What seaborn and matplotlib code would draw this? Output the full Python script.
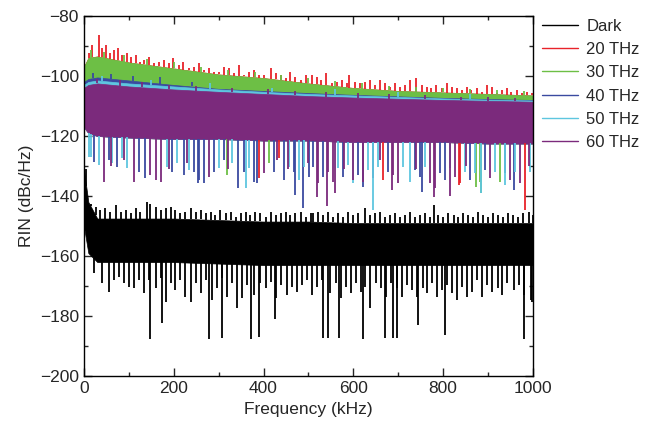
import matplotlib
matplotlib.use("Agg")
import matplotlib.pyplot as plt
import seaborn as sns
import numpy as np
from matplotlib.lines import Line2D
from matplotlib.ticker import MultipleLocator

# Datos: envolventes de la banda densa + picos visibles
f_env = [0, 10, 30, 100, 200, 300, 400, 500, 600, 700, 800, 900, 1000]

dark_hi = [-131, -142, -147.5, -147.5, -147.5, -148, -148.5, -148.5, -149, -149, -149, -149, -149]
dark_lo = [-150, -159, -162, -162, -162, -162.5, -163, -163, -163, -163, -163, -163, -163]

thz20_hi = [-97, -94, -93.5, -95.5, -97.5, -99.5, -100.7, -102.5, -104, -105, -105.5, -106, -106.5]
thz20_lo = [-117, -119, -120, -120.5, -121, -121, -121.5, -121.5, -122, -122, -122, -122.5, -122.5]
thz30_hi = [-97, -94, -93.5, -95.5, -97.5, -99.5, -100.7, -102.5, -104, -105, -105.5, -106, -106.5]
thz30_lo = [-117, -119, -120, -120.5, -121, -121, -121.5, -121.5, -122, -122, -122, -122.5, -122.5]
thz40_hi = [-102, -101, -100.5, -101.5, -103, -104.3, -105, -105.7, -106.3, -106.8, -107.3, -107.7, -108]
thz40_lo = [-117, -119, -120, -120.5, -121, -121, -121.5, -121.5, -122, -122, -122, -122.5, -122.5]
thz50_hi = [-103, -102, -101.5, -102.5, -103.5, -104.5, -105.3, -106, -106.5, -107, -107.5, -107.9, -108.2]
thz50_lo = [-117, -119, -120, -120.5, -121, -121, -121.5, -121.5, -122, -122, -122, -122.5, -122.5]
thz60_hi = [-104, -103, -102.5, -103.5, -104.5, -105.3, -106, -106.7, -107.2, -107.6, -108, -108.3, -108.6]
thz60_lo = [-117, -119, -120, -120.5, -121, -121, -121.5, -121.5, -122, -122, -122, -122.5, -122.5]

# Dark: picos hacia arriba y hacia abajo (kHz, dBc/Hz)
dark_up_f = [5, 15, 26, 37, 48, 59, 71, 82, 93, 104, 115, 126, 141, 148, 160, 171, 182, 193, 204,
             215, 226, 238, 249, 260, 271, 282, 293, 304, 316, 327, 338, 349, 360, 371, 382, 393,
             405, 416, 427, 438, 449, 460, 471, 483, 494, 505, 511, 522, 533, 544, 555, 566, 578,
             589, 600, 611, 626, 637, 648, 659, 670, 681, 693, 704, 715, 726, 737, 748, 759, 771,
             780, 789, 800, 811, 823, 834, 845, 856, 867, 878, 889, 900, 912, 923, 934, 945, 956,
             967, 978, 990, 999]
dark_up_v = [-131, -142.5, -143.6, -144.7, -144.1, -145.3, -143, -145.3, -144.7, -145.8, -144.1,
             -145.3, -141.9, -142.5, -143.6, -144.7, -144.1, -143.6, -144.7, -145.8, -145.3,
             -144.1, -145.3, -144.7, -145.8, -145.3, -146.4, -144.7, -145.8, -145.3, -146.9,
             -145.8, -145.3, -146.4, -145.3, -145.8, -146.9, -145.3, -146.4, -145.8, -145.3,
             -146.4, -145.8, -145.3, -146.9, -145.8, -145.8, -145.3, -146.4, -145.3, -146.9,
             -145.8, -146.9, -145.3, -146.4, -145.8, -144.1, -146.4, -145.8, -145.3, -146.9,
             -146.4, -145.8, -146.9, -146.4, -145.3, -146.9, -146.4, -145.8, -146.9, -143,
             -146.4, -146.9, -145.8, -146.4, -146.9, -145.8, -146.4, -146.9, -145.3, -146.4,
             -146.9, -145.8, -146.4, -146.9, -145.8, -146.4, -146.9, -145.8, -145.3, -146.4]
dark_dn_f = [22, 41, 56, 67, 78, 89, 100, 111, 122, 134, 145, 160, 171, 182, 193, 204, 215, 226,
             238, 249, 260, 271, 286, 297, 308, 319, 330, 342, 353, 364, 379, 393, 405, 416, 427,
             438, 453, 464, 475, 486, 497, 509, 520, 531, 549, 561, 572, 583, 594, 605, 616, 627,
             638, 650, 661, 672, 683, 698, 709, 720, 731, 742, 754, 765, 776, 787, 798, 809, 820,
             831, 843, 854, 865, 876, 887, 898, 909, 921, 932, 943, 958, 969, 980, 995,
             148, 175, 279, 307, 373, 390, 425, 533, 544, 569, 621, 670, 689, 698, 745, 805, 981, 998]
dark_dn_v = [-165.7, -169.1, -171.9, -168, -166.9, -169.1, -170.2, -170.7, -168, -172.4, -168,
             -170.7, -167.4, -175.2, -169.1, -171.3, -168, -173.5, -175.2, -169.1, -172.4, -168,
             -174.6, -170.7, -167.4, -173.5, -169.1, -177.4, -174.1, -169.6, -173, -169.1, -170.7,
             -168.5, -174.1, -169.6, -173, -170.2, -171.9, -169.6, -168, -173, -170.2, -168,
             -172.4, -169.1, -174.1, -170.2, -172.4, -169.1, -171.9, -170.2, -177.4, -169.1,
             -170.7, -173.5, -169.1, -170.7, -173.5, -169.6, -171.3, -173.5, -170.7, -172.4,
             -169.1, -173.5, -171.3, -169.6, -172.4, -174.6, -170.2, -173.5, -171.9, -168,
             -173.5, -169.6, -171.9, -170.7, -173, -169.1, -171.3, -169.6, -173, -174.6,
             -187.7, -182.2, -187.7, -187.4, -187.7, -186.9, -181.1, -187.4, -187.4, -187.4,
             -187.7, -187.4, -187.4, -187.4, -183, -186.3, -187.7, -175.2]

# 20 THz: picos superiores (borde rojo) e inferiores
thz20_up_f = [11, 19, 33, 41, 50, 59, 68, 76, 85, 95, 104, 115, 125, 134, 145, 156, 167, 178, 189,
              199, 212, 221, 234, 245, 256, 267, 278, 290, 301, 312, 323, 334, 345, 356, 367, 379,
              390, 401, 416, 427, 438, 449, 460, 471, 483, 494, 507, 518, 529, 540, 552, 563, 574,
              585, 591, 604, 615, 626, 637, 648, 659, 670, 681, 693, 704, 715, 726, 739, 752, 763,
              774, 785, 797, 808, 819, 830, 841, 852, 863, 875, 886, 897, 908, 919, 930, 941, 952,
              964, 975, 986, 997]
thz20_up_v = [-92.4, -89.7, -86.3, -90.8, -89.7, -92.4, -91.3, -90.8, -93, -92.4, -93.6, -93,
              -95.2, -94.7, -93.6, -95.8, -95.2, -94.7, -95.8, -94.1, -96.3, -95.2, -97.4, -96.9,
              -95.8, -98, -97.4, -98.6, -98.6, -96.9, -97.4, -99.1, -96.3, -99.7, -98.6, -98,
              -99.7, -99.7, -97.4, -99.1, -99.7, -100.8, -98.6, -100.2, -101.3, -99.7, -99.7,
              -100.2, -101.3, -99.1, -102.4, -101.9, -101.3, -102.4, -99.7, -101.9, -102.4,
              -101.9, -101.3, -103, -101.3, -102.4, -103.6, -102.4, -103.6, -103, -101.3, -100.8,
              -103, -103.6, -104.1, -103, -104.1, -102.4, -103.6, -104.1, -104.7, -103.6, -104.7,
              -104.1, -105.2, -103, -103.6, -105.8, -104.7, -104.1, -105.2, -104.7, -105.8,
              -105.2, -105.8]
thz20_dn_f = [390, 434, 667, 837, 982, 836]
thz20_dn_v = [-134.1, -127.4, -134.7, -135.8, -144.6, -136.3]

thz30_up_f = [15, 45, 90, 140, 200, 260, 320, 380, 440, 500, 560, 620, 680, 740, 800, 860, 920, 980]
thz30_up_v = [-91.5, -92, -93, -94.5, -95.5, -97, -98, -98.8, -99.8, -100.8, -101.8, -102.5,
              -103.2, -103.6, -104, -104.3, -104.6, -104.9]
thz30_dn_f = [319, 412, 882, 926, 874, 885]
thz30_dn_v = [-133, -129.1, -135.2, -135.2, -136.9, -139]

thz40_up_f = [20, 60, 110, 170, 240]
thz40_up_v = [-99, -99.5, -100, -100.5, -102]
thz40_dn_f = [22, 56, 74, 122, 137, 197, 223, 245, 256, 267, 290, 312, 343, 356, 379, 423, 445,
              468, 501, 511, 533, 578, 611, 644, 678, 737, 748, 793, 804, 860, 893, 938,
              255, 385, 469, 489, 622, 752, 958]
thz40_dn_v = [-128.6, -128, -130.2, -131.9, -134.1, -131.9, -133, -131.9, -134.7, -135.8, -131.9,
              -128, -137.4, -131.9, -135.2, -131.9, -134.7, -131.9, -133.6, -130.2, -133.6,
              -133.6, -133, -134.1, -131.9, -131.3, -133.6, -132.4, -134.7, -134.7, -131.3,
              -132.4, -135.8, -135.7, -139.6, -144, -136.9, -138.5, -138]

thz50_up_f = [40, 150, 280, 420, 560, 700, 860]
thz50_up_v = [-100, -101.5, -102.5, -104, -104.5, -105.5, -106]
thz50_dn_f = [11, 17, 33, 63, 85, 97, 186, 208, 234, 301, 330, 367, 457, 479, 490, 566, 589, 633,
              656, 711, 726, 759, 815, 849, 871, 915, 960, 993, 360, 600, 643, 885, 937]
thz50_dn_v = [-126.9, -127, -129.7, -129.1, -127.4, -130.8, -130.2, -129.1, -131.3, -130.8,
              -129.1, -130.8, -130.2, -134.7, -130.2, -130.8, -129.7, -131.3, -130.2, -130.2,
              -135.2, -130.2, -130.8, -131.9, -132.4, -131.9, -131.9, -131.9, -137.4, -135.7,
              -144.6, -139, -136.3]

thz60_up_f = [30, 80, 130, 190, 250, 330, 410, 470, 540, 610, 680, 760, 840, 900, 960]
thz60_up_v = [-101, -101.5, -102, -103, -103.5, -104, -104.5, -105, -105.5, -105.8, -106, -106.5,
              -107, -107, -107.5]
thz60_dn_f = [1, 45, 60, 90, 111, 148, 160, 171, 190, 230, 278, 320, 401, 430, 455, 500, 520, 522,
              542, 544, 555, 559, 580, 600, 622, 660, 685, 689, 700, 740, 771, 780, 782, 815, 826,
              850, 904, 949, 971, 990]
thz60_dn_v = [-200, -135.2, -130, -128, -135.2, -133, -134.7, -135.2, -131, -129, -133.6, -131,
              -132.4, -128, -131, -129, -140.2, -135.8, -143.3, -131.9, -135.2, -139, -131,
              -134.7, -135.2, -128, -138, -133, -135.8, -131, -135.8, -140.2, -137.4, -140,
              -133.6, -130, -134.1, -134.7, -135.8, -130]

etiquetas = ["Dark", "20 THz", "30 THz", "40 THz", "50 THz", "60 THz"]
colores = ["#000000", "#e8232a", "#6dbf45", "#3a4aa0", "#5ec6df", "#7b2a7c"]

series = [
    (dark_hi, dark_lo, dark_up_f, dark_up_v, dark_dn_f, dark_dn_v),
    (thz20_hi, thz20_lo, thz20_up_f, thz20_up_v, thz20_dn_f, thz20_dn_v),
    (thz30_hi, thz30_lo, thz30_up_f, thz30_up_v, thz30_dn_f, thz30_dn_v),
    (thz40_hi, thz40_lo, thz40_up_f, thz40_up_v, thz40_dn_f, thz40_dn_v),
    (thz50_hi, thz50_lo, thz50_up_f, thz50_up_v, thz50_dn_f, thz50_dn_v),
    (thz60_hi, thz60_lo, thz60_up_f, thz60_up_v, thz60_dn_f, thz60_dn_v),
]

sns.set_style("ticks")
plt.rcParams['font.family'] = ['Liberation Sans', 'DejaVu Sans']

fig = plt.figure(figsize=(6.5, 4.41), dpi=100)
ax = fig.add_axes([0.129, 0.147, 0.691, 0.817])

for (hi, lo, uf, uv, df, dv), col in zip(series, colores):
    ax.fill_between(f_env, lo, hi, color=col, lw=0.5, edgecolor=col)
    ax.vlines(uf, np.interp(uf, f_env, hi), uv, color=col, lw=1.3)
    ax.vlines(df, np.interp(df, f_env, lo), dv, color=col, lw=1.3)

ax.set_xlim(0, 1000)
ax.set_ylim(-200, -80)
ax.xaxis.set_major_locator(MultipleLocator(200))
ax.xaxis.set_minor_locator(MultipleLocator(100))
ax.yaxis.set_major_locator(MultipleLocator(20))
ax.yaxis.set_minor_locator(MultipleLocator(10))
ax.tick_params(which="both", direction="in", top=True, right=True, labelsize=12.5, width=1)
ax.tick_params(which="major", length=6)
ax.tick_params(which="minor", length=3)
for s in ax.spines.values():
    s.set_linewidth(1.0)
    s.set_color("black")

ax.set_xlabel("Frequency (kHz)", fontsize=12.5)
ax.set_ylabel("RIN (dBc/Hz)", fontsize=12.5)

handles = [Line2D([0], [0], color=c, lw=1) for c in colores]
fig.legend(handles, etiquetas, loc="upper left", bbox_to_anchor=(0.81, 0.992), frameon=False,
           fontsize=12, handlelength=2.2, handletextpad=0.5, labelspacing=0.5)

fig.savefig("out.png", dpi=100)
